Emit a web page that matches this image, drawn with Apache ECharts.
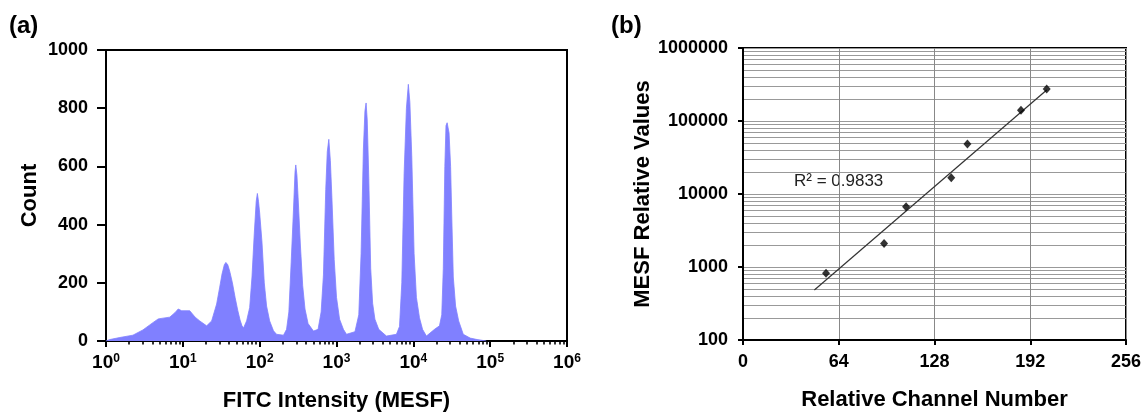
<!DOCTYPE html>
<html><head><meta charset="utf-8">
<script src="https://cdn.jsdelivr.net/npm/echarts@6/dist/echarts.min.js"></script>
<style>html,body{margin:0;padding:0;background:#fff}#c{width:1146px;height:413px}</style>
</head><body><div id="c"></div>
<script>
// ---- Panel (a): FITC histogram (x = log10 of MESF intensity) ----
const histLogIntensity = [0.00,0.05,0.18,0.35,0.48,0.61,0.68,0.83,0.90,0.94,0.985,1.09,1.16,1.22,1.31,1.375,
  1.44,1.48,1.51,1.54,1.56,1.585,1.61,1.645,1.68,1.715,1.745,1.77,1.79,
  1.83,1.87,1.90,1.93,1.955,1.97,1.985,2.00,2.03,2.06,2.09,2.13,2.18,2.22,
  2.31,2.35,2.38,2.41,2.44,2.46,2.47,2.485,2.50,2.53,2.56,2.59,2.63,2.70,
  2.76,2.80,2.83,2.86,2.88,2.90,2.92,2.94,2.97,3.00,3.04,3.09,3.13,
  3.24,3.29,3.32,3.35,3.37,3.385,3.40,3.42,3.445,3.47,3.50,3.55,3.65,
  3.78,3.82,3.85,3.88,3.91,3.935,3.955,3.98,4.01,4.04,4.08,4.12,4.17,
  4.28,4.34,4.37,4.39,4.41,4.425,4.44,4.465,4.485,4.50,4.52,4.55,4.59,4.65,4.74,4.83,4.95];
const histCount = [0,5,12,20,38,63,76,82,98,110,104,104,82,69,52,69,
  127,185,230,262,270,262,240,200,150,105,72,52,45,
  69,115,220,370,480,507,480,440,340,200,120,69,35,23,
  20,40,100,270,450,580,605,570,494,330,190,110,60,34,
  40,100,227,520,650,693,620,494,280,150,75,40,23,
  32,90,300,660,790,818,760,560,250,130,75,40,17,
  23,50,200,575,800,882,820,632,300,150,80,40,17,
  41,52,90,250,600,740,750,715,600,430,220,120,69,23,10,5,0];
const xExponents = ['0','1','2','3','4','5','6'];
const countTicks = ['0','200','400','600','800','1000'];

// ---- Panel (b): calibration ----
const channel = [55.5, 94.3, 109, 139.2, 150, 185.8, 203];
const mesf = [820, 2100, 6700, 16700, 48400, 140000, 274000];
const trendChannel = [47.7, 203];
const trendMesf = [484, 266000];
const mesfTickLabels = ['100','1000','10000','100000','1000000'];
const channelTickLabels = ['0','64','128','192','256'];
const r2Text = 'R\u00B2 = 0.9833';

const FONT = '"Liberation Sans", Arial, sans-serif';

const minorLogX = [];
for (let k = 0; k < 6; k++) for (let m = 2; m <= 9; m++) minorLogX.push(k + Math.log10(m));
const gridLogY = [];
for (let k = 2; k < 6; k++) for (let m = 1; m <= 9; m++) gridLogY.push(k + Math.log10(m));
gridLogY.push(6);

const chart = echarts.init(document.getElementById('c'), null, {renderer: 'canvas'});
const bold18 = {fontFamily: FONT, fontSize: 18, fontWeight: 'bold', color: '#000'};
const nameStyle = {fontFamily: FONT, fontSize: 22, fontWeight: 'bold', color: '#000'};

chart.setOption({
  animation: false,
  backgroundColor: '#fff',
  title: [
    {text: '(a)', left: 9, top: 14, padding: 0, textStyle: {fontFamily: FONT, fontSize: 24, fontWeight: 'bold', color: '#000'}},
    {text: '(b)', left: 611, top: 14, padding: 0, textStyle: {fontFamily: FONT, fontSize: 24, fontWeight: 'bold', color: '#000'}}
  ],
  grid: [
    {left: 106, top: 50, width: 461, height: 291, show: true, borderColor: '#000', borderWidth: 2, backgroundColor: 'transparent', outerBoundsMode: 'none'},
    {left: 743, top: 48, width: 383, height: 292, show: true, borderColor: '#000', borderWidth: 2, backgroundColor: 'transparent', outerBoundsMode: 'none'}
  ],
  xAxis: [
    {gridIndex: 0, type: 'value', position: 'bottom', min: 0, max: 6, interval: 1,
     name: 'FITC Intensity (MESF)', nameLocation: 'middle', nameGap: 49, nameTextStyle: nameStyle,
     axisLine: {lineStyle: {color: '#000', width: 2}},
     axisTick: {length: 6, lineStyle: {color: '#000', width: 2}},
     splitLine: {show: false},
     axisLabel: {margin: 12, formatter: v => '{b|10}{s|' + xExponents[Math.round(v)] + '}',
       rich: {b: {fontFamily: FONT, fontSize: 19, fontWeight: 'bold', color: '#000', verticalAlign: 'bottom'},
              s: {fontFamily: FONT, fontSize: 12, fontWeight: 'bold', color: '#000', verticalAlign: 'top'}}}},
    {gridIndex: 0, type: 'value', position: 'bottom', min: 0, max: 6,
     axisLine: {show: false}, axisLabel: {show: false}, splitLine: {show: false},
     axisTick: {show: true, length: 3.5, customValues: minorLogX, lineStyle: {color: '#000', width: 1.6}}},
    {gridIndex: 1, type: 'value', position: 'bottom', min: 0, max: 256, interval: 64,
     name: 'Relative Channel Number', nameLocation: 'middle', nameGap: 49, nameTextStyle: nameStyle,
     axisLine: {lineStyle: {color: '#000', width: 2}},
     axisTick: {length: 5, lineStyle: {color: '#000', width: 2}},
     splitLine: {show: true, lineStyle: {color: '#888', width: 1}},
     axisLabel: Object.assign({margin: 13, formatter: v => channelTickLabels[Math.round(v / 64)]}, bold18)}
  ],
  yAxis: [
    {gridIndex: 0, type: 'value', min: 0, max: 1000, interval: 200,
     name: 'Count', nameLocation: 'middle', nameGap: 65, nameTextStyle: nameStyle,
     axisLine: {lineStyle: {color: '#000', width: 2}},
     axisTick: {length: 9, lineStyle: {color: '#000', width: 2}},
     splitLine: {show: false},
     axisLabel: Object.assign({margin: 18, formatter: v => countTicks[Math.round(v / 200)]}, bold18)},
    {gridIndex: 1, type: 'log', logBase: 10, min: 100, max: 1000000, position: 'left',
     name: 'MESF Relative Values', nameLocation: 'middle', nameGap: 89, nameTextStyle: nameStyle,
     axisLine: {lineStyle: {color: '#000', width: 2}},
     axisTick: {length: 5, lineStyle: {color: '#000', width: 2}},
     splitLine: {show: false},
     axisLabel: Object.assign({margin: 15, formatter: v => mesfTickLabels[Math.round(Math.log10(v)) - 2]}, bold18)},
    {gridIndex: 1, type: 'value', min: 2, max: 6, position: 'right',
     axisLine: {show: false}, axisLabel: {show: false},
     axisTick: {show: false, customValues: gridLogY},
     splitLine: {show: true, lineStyle: {color: '#999', width: 1}}}
  ],
  graphic: [
    {type: 'text', left: 794, top: 173, style: {text: r2Text, fontFamily: FONT, fontSize: 17, fill: '#222'}}
  ],
  series: [
    {type: 'line', xAxisIndex: 0, yAxisIndex: 0, showSymbol: false, symbol: 'none',
     data: histLogIntensity.map((x, i) => [x, histCount[i]]),
     lineStyle: {color: '#8080ff', width: 0.8}, areaStyle: {color: '#8080ff', opacity: 1}, z: 1},
    {type: 'line', xAxisIndex: 2, yAxisIndex: 1, showSymbol: false, symbol: 'none',
     data: trendChannel.map((x, i) => [x, trendMesf[i]]),
     lineStyle: {color: '#333', width: 1.2}, z: 3},
    {type: 'scatter', xAxisIndex: 2, yAxisIndex: 1, symbol: 'diamond', symbolSize: [8, 9],
     data: channel.map((x, i) => [x, mesf[i]]),
     itemStyle: {color: '#000'}, z: 4}
  ]
});
</script></body></html>
